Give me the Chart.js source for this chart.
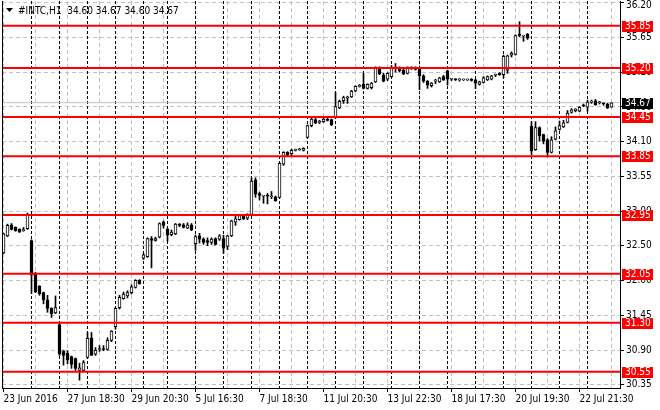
<!DOCTYPE html>
<html>
<head>
<meta charset="utf-8">
<title>#INTC,H1</title>
<script src="https://cdn.jsdelivr.net/npm/chart.js@4.4.1/dist/chart.umd.min.js"></script>
<style>
  html, body { margin: 0; padding: 0; background: #fff; }
  canvas { display: block; }
</style>
</head>
<body>
<canvas id="chart" width="660" height="410"></canvas>
<script>
const symbol = '#INTC,H1';

// hourly bars, 23 Jun 2016 16:30 .. 25 Jul 2016
const opens = [
  32.37, 32.63, 32.80, 32.76, 32.73, 32.71, 32.74, 32.56, 32.05, 31.86,
  31.76, 31.65, 31.52, 31.45, 31.27, 30.86, 30.83, 30.78, 30.75, 30.57,
  30.57, 30.77, 31.07, 30.82, 30.89, 30.90, 30.89, 31.03, 31.24, 31.53,
  31.67, 31.71, 31.76, 31.84, 31.95, 32.29, 32.31, 32.59, 32.56, 32.61,
  32.84, 32.73, 32.65, 32.66, 32.80, 32.80, 32.75, 32.80, 32.51, 32.63,
  32.58, 32.56, 32.53, 32.59, 32.58, 32.59, 32.47, 32.63, 32.84, 32.88,
  32.94, 32.90, 32.96, 33.49, 33.28, 33.24, 33.25, 33.23, 33.23, 33.22,
  33.73, 33.91, 33.89, 33.94, 33.95, 33.94, 34.14, 34.32, 34.41, 34.37,
  34.38, 34.42, 34.41, 34.44, 34.59, 34.70, 34.74, 34.76, 34.85, 34.92,
  34.95, 34.89, 34.90, 34.99, 35.21, 35.09, 35.03, 35.07, 35.20, 35.20,
  35.17, 35.12, 35.20, 35.21, 35.18, 35.08, 35.00, 34.93, 35.00, 34.99,
  35.07, 35.16, 35.03, 35.03, 35.02, 35.02, 35.02, 35.03, 35.02, 34.95,
  34.98, 35.02, 35.03, 35.09, 35.12, 35.10, 35.17, 35.40, 35.41, 35.72,
  35.69, 35.72, 34.31, 33.95, 34.29, 34.18, 34.10, 33.91, 34.11, 34.26,
  34.30, 34.37, 34.52, 34.55, 34.54, 34.63, 34.60, 34.68, 34.70, 34.67,
  34.66, 34.65, 34.60
];
const highs = [
  32.67, 32.81, 32.82, 32.77, 32.74, 32.76, 32.98, 32.57, 32.07, 31.87,
  31.77, 31.72, 31.53, 31.71, 31.28, 30.88, 30.87, 30.79, 30.76, 30.68,
  30.72, 31.15, 31.15, 30.92, 30.95, 30.95, 31.07, 31.18, 31.53, 31.72,
  31.77, 31.79, 31.88, 31.96, 31.96, 32.36, 32.60, 32.62, 32.61, 32.83,
  32.86, 32.75, 32.72, 32.82, 32.82, 32.82, 32.83, 32.82, 32.64, 32.67,
  32.60, 32.60, 32.60, 32.60, 32.65, 32.64, 32.64, 32.87, 32.93, 32.96,
  32.96, 32.97, 33.52, 33.52, 33.30, 33.25, 33.28, 33.31, 33.24, 33.75,
  33.92, 33.92, 33.96, 33.96, 33.97, 33.98, 34.33, 34.43, 34.43, 34.40,
  34.43, 34.43, 34.42, 34.83, 34.71, 34.77, 34.77, 34.86, 34.93, 34.95,
  35.12, 34.96, 34.98, 35.22, 35.22, 35.12, 35.13, 35.24, 35.27, 35.22,
  35.19, 35.22, 35.22, 35.22, 35.21, 35.10, 35.01, 34.98, 35.03, 35.06,
  35.09, 35.17, 35.04, 35.04, 35.04, 35.03, 35.03, 35.04, 35.03, 35.00,
  35.07, 35.08, 35.09, 35.11, 35.13, 35.40, 35.40, 35.45, 35.71, 35.91,
  35.70, 35.73, 34.38, 34.38, 34.30, 34.19, 34.12, 34.15, 34.30, 34.39,
  34.40, 34.55, 34.58, 34.58, 34.61, 34.65, 34.71, 34.71, 34.72, 34.69,
  34.67, 34.66, 34.67
];
const lows = [
  32.36, 32.62, 32.72, 32.70, 32.68, 32.70, 32.73, 31.75, 31.76, 31.72,
  31.59, 31.46, 31.38, 31.44, 30.80, 30.65, 30.67, 30.60, 30.57, 30.42,
  30.55, 30.76, 30.80, 30.80, 30.86, 30.87, 30.88, 31.01, 31.20, 31.51,
  31.66, 31.68, 31.74, 31.83, 31.89, 32.27, 32.30, 32.14, 32.55, 32.60,
  32.75, 32.55, 32.63, 32.65, 32.77, 32.75, 32.74, 32.71, 32.41, 32.52,
  32.50, 32.48, 32.50, 32.49, 32.56, 32.36, 32.42, 32.62, 32.79, 32.87,
  32.88, 32.88, 32.95, 33.22, 33.18, 33.13, 33.12, 33.20, 33.16, 33.21,
  33.71, 33.85, 33.86, 33.93, 33.94, 33.93, 34.13, 34.30, 34.35, 34.35,
  34.37, 34.39, 34.32, 34.43, 34.58, 34.66, 34.66, 34.75, 34.84, 34.91,
  34.88, 34.88, 34.88, 34.98, 35.10, 34.99, 35.01, 35.06, 35.14, 35.14,
  35.10, 35.11, 35.18, 35.17, 34.87, 34.98, 34.89, 34.91, 34.96, 34.98,
  35.01, 34.94, 35.01, 35.01, 35.00, 35.01, 35.01, 35.00, 34.89, 34.94,
  34.97, 35.01, 35.02, 35.07, 35.09, 35.05, 35.12, 35.37, 35.40, 35.68,
  35.61, 35.64, 33.87, 33.94, 34.08, 34.04, 33.84, 33.90, 34.10, 34.25,
  34.29, 34.36, 34.51, 34.53, 34.53, 34.61, 34.54, 34.66, 34.63, 34.65,
  34.63, 34.58, 34.60
];
const closes = [
  32.66, 32.79, 32.73, 32.71, 32.69, 32.72, 32.96, 32.03, 31.77, 31.74,
  31.65, 31.52, 31.44, 31.53, 30.82, 30.80, 30.73, 30.66, 30.60, 30.61,
  30.69, 31.06, 30.80, 30.88, 30.90, 30.89, 31.03, 31.17, 31.52, 31.69,
  31.74, 31.76, 31.85, 31.95, 31.90, 32.34, 32.59, 32.56, 32.59, 32.82,
  32.79, 32.64, 32.69, 32.81, 32.79, 32.76, 32.80, 32.72, 32.62, 32.58,
  32.53, 32.53, 32.58, 32.50, 32.63, 32.44, 32.63, 32.86, 32.89, 32.94,
  32.89, 32.95, 33.47, 33.27, 33.25, 33.24, 33.24, 33.23, 33.17, 33.74,
  33.91, 33.87, 33.94, 33.95, 33.95, 33.97, 34.32, 34.42, 34.36, 34.38,
  34.42, 34.40, 34.33, 34.61, 34.69, 34.75, 34.76, 34.85, 34.92, 34.93,
  34.89, 34.95, 34.97, 35.20, 35.11, 35.00, 35.12, 35.20, 35.21, 35.16,
  35.11, 35.21, 35.21, 35.18, 35.08, 35.00, 34.94, 34.97, 35.01, 35.05,
  35.02, 35.03, 35.03, 35.02, 35.02, 35.02, 35.02, 35.01, 34.97, 34.99,
  35.05, 35.07, 35.08, 35.09, 35.10, 35.38, 35.39, 35.43, 35.70, 35.70,
  35.69, 35.66, 33.93, 34.29, 34.16, 34.08, 33.91, 34.10, 34.24, 34.32,
  34.36, 34.51, 34.56, 34.57, 34.60, 34.62, 34.68, 34.69, 34.64, 34.67,
  34.65, 34.59, 34.67
];

// horizontal levels drawn on the chart
const levels = [35.85, 35.20, 34.45, 33.85, 32.95, 32.05, 31.30, 30.55];
const lastPrice = 34.67;

// first bar of each session
const dayStarts = [7, 14, 21, 28, 35, 41, 48, 55, 62, 69, 76, 83, 90, 97, 104, 111, 118, 125, 132, 139, 146];

// time labels, one every 16 bars
const timeLabels = ['23 Jun 2016', '27 Jun 18:30', '29 Jun 20:30', '5 Jul 16:30', '7 Jul 18:30',
  '11 Jul 20:30', '13 Jul 22:30', '18 Jul 17:30', '20 Jul 19:30', '22 Jul 21:30'];

// price scale labels, top to bottom
const priceLabels = ['36.20', '35.65', '35.10', '34.60', '34.10', '33.55',
  '33.00', '32.50', '32.00', '31.45', '30.90', '30.35'];

const X_MIN = -0.375, X_MAX = 154.125;
const Y_MIN = 30.30, Y_MAX = 36.228;
const FONT = "'DejaVu Sans Condensed', 'DejaVu Sans', sans-serif";

Chart.defaults.font.family = FONT;
Chart.defaults.font.size = 10;
Chart.defaults.color = '#000';

const bars = opens.map((o, i) => i);

const levelSets = levels.map(v => ({
  type: 'line',
  data: [{ x: X_MIN, y: v }, { x: X_MAX, y: v }],
  borderColor: '#ff0000',
  borderWidth: 2,
  pointRadius: 0,
  order: 0
}));

const overlay = {
  id: 'overlay',
  beforeDatasetsDraw(chart) {
    const { ctx, chartArea: a, scales: { x } } = chart;
    ctx.save();
    ctx.strokeStyle = '#000';
    ctx.lineWidth = 1;
    ctx.setLineDash([3, 2]);
    dayStarts.forEach(i => {
      const px = Math.floor(x.getPixelForValue(i)) + 0.5;
      ctx.beginPath();
      ctx.moveTo(px, a.top);
      ctx.lineTo(px, a.bottom);
      ctx.stroke();
    });
    ctx.restore();
  },
  afterDraw(chart) {
    const { ctx, chartArea: a, scales: { y } } = chart;
    ctx.save();
    // left frame
    ctx.strokeStyle = '#000';
    ctx.lineWidth = 1;
    ctx.beginPath();
    ctx.moveTo(a.left + 0.5, a.top);
    ctx.lineTo(a.left + 0.5, a.bottom);
    ctx.stroke();

    ctx.font = '10px ' + FONT;
    ctx.textBaseline = 'middle';
    ctx.textAlign = 'left';

    // top scale label sits just below its grid line so it is not cut off
    ctx.fillStyle = '#000';
    ctx.fillText(priceLabels[0], a.right + 6, y.getPixelForValue(+priceLabels[0]) + 3);

    // price tags on the scale
    const tag = (v, color) => {
      const py = Math.round(y.getPixelForValue(v));
      ctx.fillStyle = color;
      ctx.fillRect(a.right + 2, py - 5, 31, 11);
      ctx.fillStyle = '#fff';
      ctx.fillText(v.toFixed(2), a.right + 5, py + 0.5);
    };
    levels.forEach(v => tag(v, '#ff0000'));
    tag(lastPrice, '#000');

    // title
    const n = opens.length - 1;
    ctx.fillStyle = '#000';
    ctx.beginPath();
    ctx.moveTo(6, 8);
    ctx.lineTo(13, 8);
    ctx.lineTo(9.5, 12);
    ctx.closePath();
    ctx.fill();
    const ohlc = [opens[n], highs[n], lows[n], closes[n]].map(v => v.toFixed(2)).join(' ');
    ctx.fillText(symbol + '  ' + ohlc, 18, 11);
    ctx.restore();
  }
};

new Chart(document.getElementById('chart'), {
  type: 'bar',
  data: {
    datasets: [
      ...levelSets,
      {
        label: 'body',
        data: bars.map(i => ({ x: i, y: [opens[i], closes[i]] })),
        backgroundColor: bars.map(i => closes[i] >= opens[i] ? '#fff' : '#000'),
        borderColor: '#000',
        borderWidth: 1,
        borderSkipped: false,
        barThickness: 3,
        minBarLength: 1,
        grouped: false,
        order: 1
      },
      {
        label: 'wick',
        data: bars.map(i => ({ x: i, y: [lows[i], highs[i]] })),
        backgroundColor: '#000',
        borderWidth: 0,
        barThickness: 1,
        grouped: false,
        order: 2
      },
      {
        type: 'line',
        data: [{ x: X_MIN, y: lastPrice }, { x: X_MAX, y: lastPrice }],
        borderColor: '#c0c0c0',
        borderWidth: 1,
        pointRadius: 0,
        order: 3
      }
    ]
  },
  options: {
    responsive: false,
    devicePixelRatio: 1,
    animation: false,
    events: [],
    layout: { padding: { left: 2, top: 1, right: 0, bottom: 0 } },
    plugins: { legend: { display: false }, tooltip: { enabled: false } },
    scales: {
      x: {
        type: 'linear',
        min: X_MIN,
        max: X_MAX,
        offset: false,
        grid: {
          offset: false,
          color: '#c0c0c0',
          tickLength: 4,
          tickColor: c => c.index % 2 === 0 ? '#000' : 'rgba(0,0,0,0)'
        },
        border: { display: true, color: '#000', dash: [4, 3] },
        ticks: {
          autoSkip: false,
          maxRotation: 0,
          align: 'start',
          padding: 1,
          callback: (v, i) => i % 2 === 0 ? timeLabels[i / 2] : ''
        },
        afterBuildTicks: s => { s.ticks = bars.filter(i => i % 8 === 0).map(i => ({ value: i })); },
        afterFit: s => { s.height = 22; s.paddingLeft = 0; s.paddingRight = 0; }
      },
      y: {
        type: 'linear',
        position: 'right',
        min: Y_MIN,
        max: Y_MAX,
        grid: { color: '#c0c0c0', tickLength: 4, tickColor: '#000' },
        border: { display: true, color: '#000', dash: [4, 3] },
        ticks: { padding: 2, callback: (v, i) => i === 0 ? '' : priceLabels[i] },
        afterBuildTicks: s => {
          const top = +priceLabels[0], bottom = +priceLabels[priceLabels.length - 1];
          const step = (top - bottom) / (priceLabels.length - 1);
          s.ticks = priceLabels.map((t, k) => ({ value: top - k * step }));
        },
        afterFit: s => { s.width = 40; s.paddingTop = 0; s.paddingBottom = 0; }
      }
    }
  },
  plugins: [overlay]
});
</script>
</body>
</html>
